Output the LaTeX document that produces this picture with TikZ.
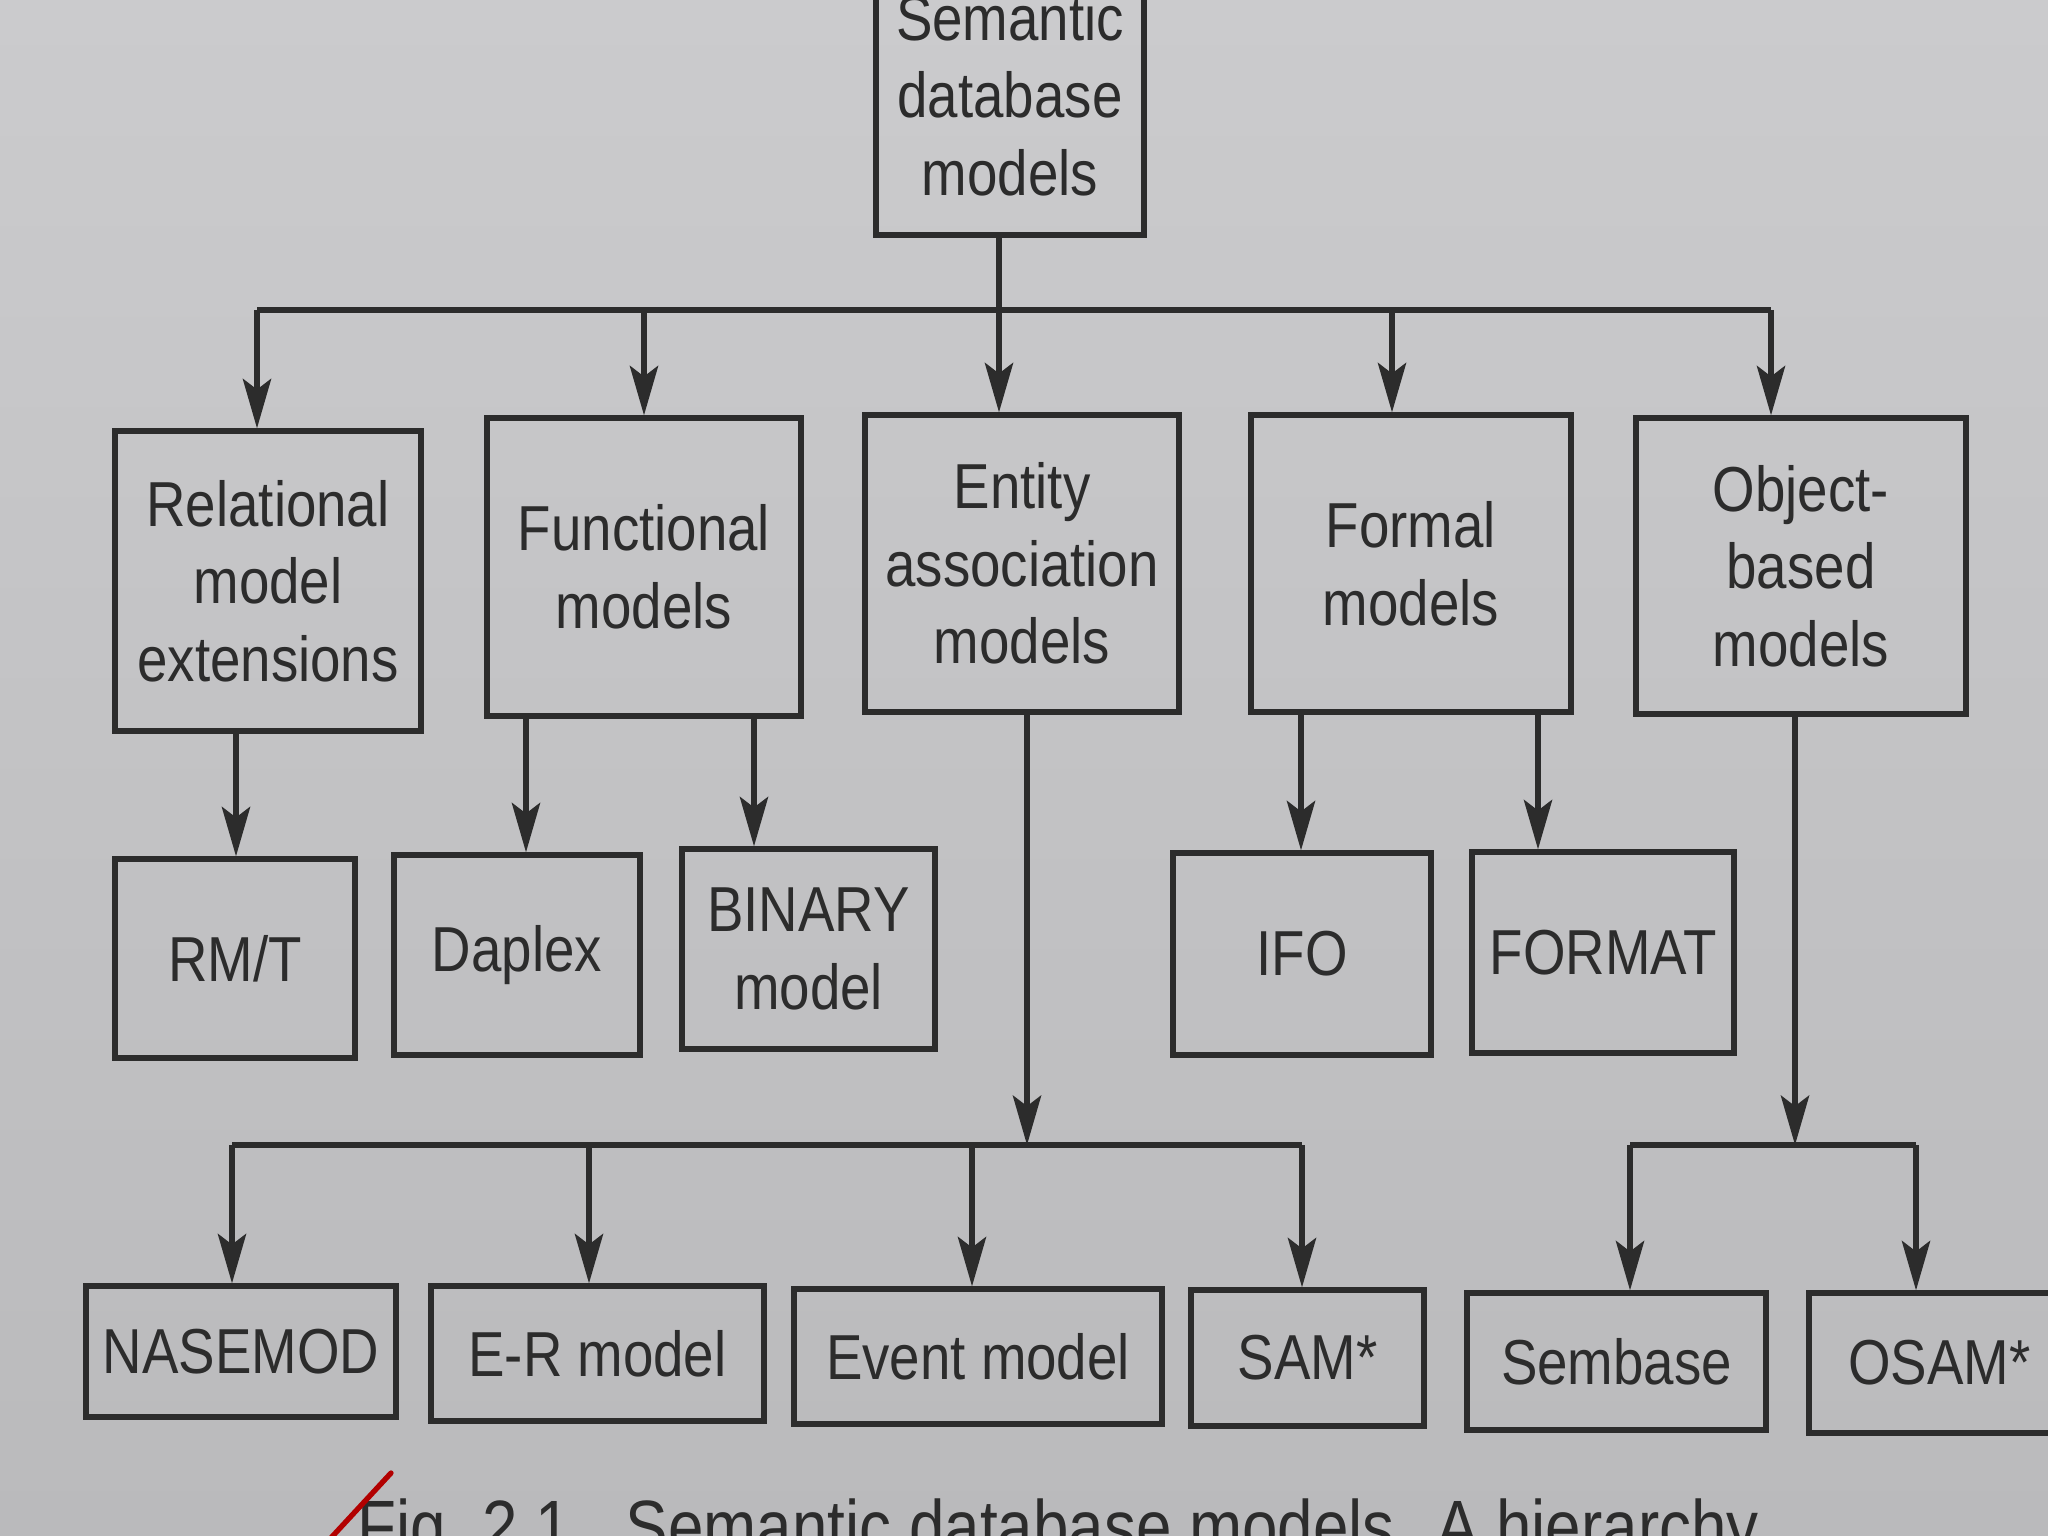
\documentclass[tikz,border=0pt]{standalone}
\usepackage{fontspec}
\setmainfont{Liberation Sans}[FakeStretch=0.86]
\usetikzlibrary{fit,arrows.meta}
\definecolor{paper}{HTML}{C4C4C6}
\definecolor{paperlt}{HTML}{CBCBCD}
\definecolor{paperdk}{HTML}{BABABC}
\definecolor{ink}{HTML}{2C2C2C}
\tikzset{
  box/.style={draw=ink, line width=1.5pt, inner sep=0pt},
  lbl/.style={align=center, text=ink, inner sep=0pt, font=\fontsize{18}{22}\selectfont},
  conn/.style={draw=ink, line width=1.5pt},
  arr/.style={conn, -{Stealth[length=14pt,width=8pt,inset=3pt]}},
  captxt/.style={anchor=base west, inner sep=0pt, text=ink, font=\fontsize{21}{24}\selectfont},
}
\begin{document}
\begin{tikzpicture}[x=0.2832pt,y=-0.2832pt]
\useasboundingbox (0,0) rectangle (2048,1536);
\shade[top color=paperlt, bottom color=paperdk] (0,0) rectangle (2048,1536);
\clip (0,0) rectangle (2048,1536);

% level 1
\node[box, fit={(876,-45)(1144,235)}, label={[lbl]center:{Semantic\\database\\models}}] (top) {};

% level 2
\node[box, fit={(115,431)(421,731)}, label={[lbl]center:{Relational\\model\\extensions}}] (rel) {};
\node[box, fit={(487,418)(801,716)}, label={[lbl]center:{Functional\\models}}] (fun) {};
\node[box, fit={(865,415)(1179,712)}, label={[lbl]center:{Entity\\association\\models}}] (ent) {};
\node[box, fit={(1251,415)(1571,712)}, label={[lbl]center:{Formal\\models}}] (for) {};
\node[box, fit={(1636,418)(1966,714)}, label={[lbl]center:{Object-\\based\\models}}] (obj) {};

% level 3
\node[box, fit={(115,859)(355,1058)}, label={[lbl]center:{RM/T}}] (rmt) {};
\node[box, fit={(394,855)(640,1055)}, label={[lbl]center:{Daplex}}] (dap) {};
\node[box, fit={(682,849)(935,1049)}, label={[lbl]center:{BINARY\\model}}] (bin) {};
\node[box, fit={(1173,853)(1431,1055)}, label={[lbl]center:{IFO}}] (ifo) {};
\node[box, fit={(1472,852)(1734,1053)}, label={[lbl]center:{FORMAT}}] (fmt) {};

% level 4
\node[box, fit={(86,1286)(396,1417)}, label={[lbl]center:{NASEMOD}}] (nas) {};
\node[box, fit={(431,1286)(764,1421)}, label={[lbl]center:{E-R model}}] (er) {};
\node[box, fit={(794,1289)(1162,1424)}, label={[lbl]center:{Event model}}] (evt) {};
\node[box, fit={(1191,1290)(1424,1426)}, label={[lbl]center:{SAM*}}] (sam) {};
\node[box, fit={(1467,1293)(1766,1430)}, label={[lbl]center:{Sembase}}] (sem) {};
\node[box, fit={(1809,1293)(2070,1433)}, label={[lbl]center:{OSAM*}}] (osam) {};

% top bus
\coordinate (a1) at (257,310);
\coordinate (a2) at (644,310);
\coordinate (a3) at (999,310);
\coordinate (a4) at (1392,310);
\coordinate (a5) at (1771,310);
\draw[conn] (top.south -| a3) -- (a3);
\draw[conn] (a1) -- (a5);
\draw[arr] (a1) -- (rel.north -| a1);
\draw[arr] (a2) -- (fun.north -| a2);
\draw[arr] (a3) -- (ent.north -| a3);
\draw[arr] (a4) -- (for.north -| a4);
\draw[arr] (a5) -- (obj.north -| a5);

% level 2 -> level 3
\coordinate (b1) at (236,0);
\coordinate (b2) at (526,0);
\coordinate (b3) at (754,0);
\coordinate (b4) at (1301,0);
\coordinate (b5) at (1538,0);
\draw[arr] (rel.south -| b1) -- (rmt.north -| b1);
\draw[arr] (fun.south -| b2) -- (dap.north -| b2);
\draw[arr] (fun.south -| b3) -- (bin.north -| b3);
\draw[arr] (for.south -| b4) -- (ifo.north -| b4);
\draw[arr] (for.south -| b5) -- (fmt.north -| b5);

% entity association -> bottom bus
\coordinate (c0) at (1027,1145);
\coordinate (c1) at (232,1145);
\coordinate (c2) at (589,1145);
\coordinate (c3) at (972,1145);
\coordinate (c4) at (1302,1145);
\draw[conn] (c1) -- (c4);
\draw[arr] (ent.south -| c0) -- (c0);
\draw[arr] (c1) -- (nas.north -| c1);
\draw[arr] (c2) -- (er.north -| c2);
\draw[arr] (c3) -- (evt.north -| c3);
\draw[arr] (c4) -- (sam.north -| c4);

% object-based -> bottom bus
\coordinate (d0) at (1795,1145);
\coordinate (d1) at (1630,1145);
\coordinate (d2) at (1916,1145);
\draw[conn] (d1) -- (d2);
\draw[arr] (obj.south -| d0) -- (d0);
\draw[arr] (d1) -- (sem.north -| d1);
\draw[arr] (d2) -- (osam.north -| d2);

% caption (cut off at the bottom)
\node[captxt] (fig) at (357,1552) {Fig.};
\node[captxt] (fignum) at (482,1552) {2.1};
\node[captxt] (cap) at (625,1552) {Semantic database models. A hierarchy};
\draw[red!70!black, line width=1.5pt, line cap=round] (391,1473) -- (329,1540);
\end{tikzpicture}
\end{document}
